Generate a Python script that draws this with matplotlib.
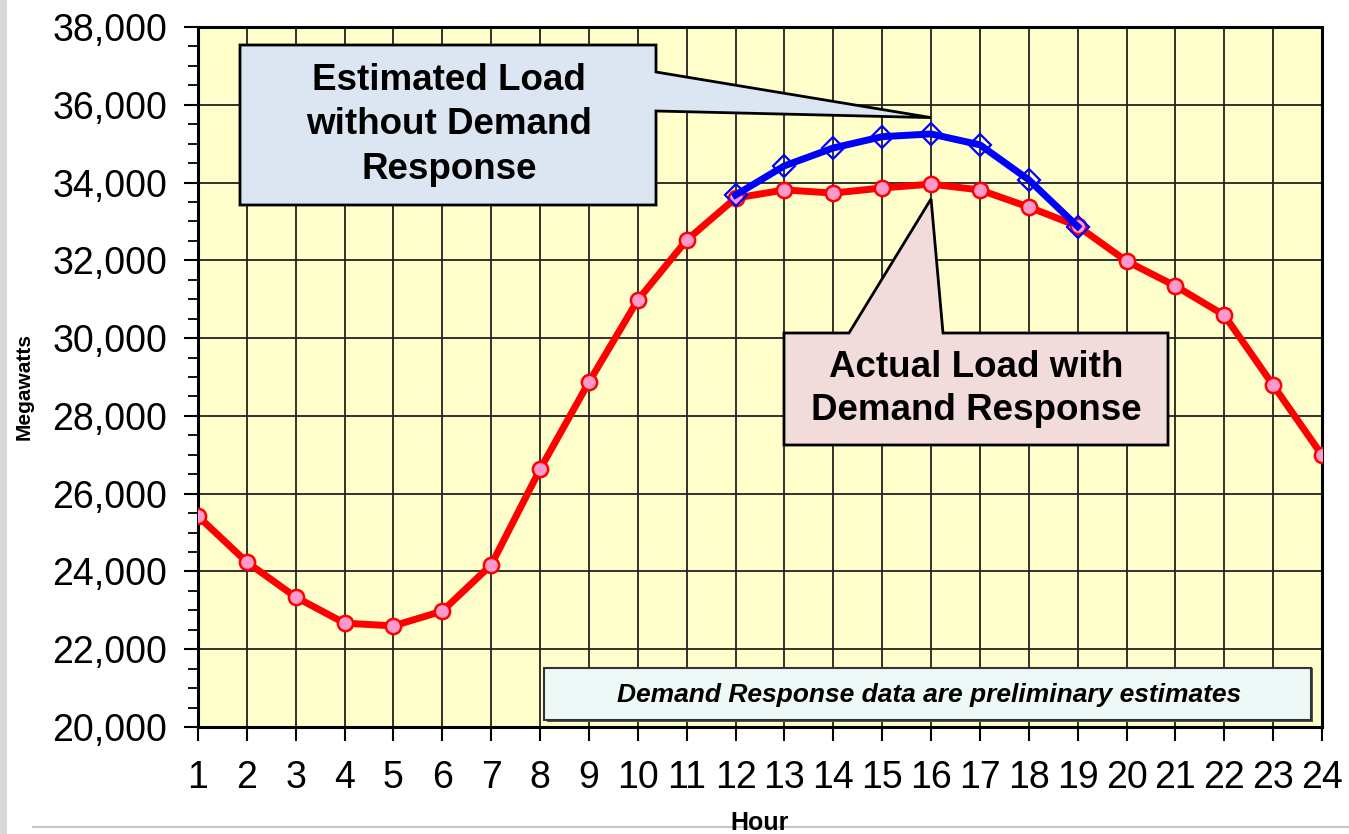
import matplotlib
matplotlib.use("Agg")
import matplotlib.pyplot as plt
from matplotlib.patches import Polygon, Rectangle
from matplotlib.ticker import MultipleLocator, FuncFormatter
from matplotlib.lines import Line2D

# ---- data ----
hours = list(range(1, 25))
actual_load = [25420, 24240, 23340, 22670, 22600, 22980, 24170, 26630,
               28870, 30980, 32520, 33600, 33810, 33730, 33860, 33960,
               33810, 33370, 32880, 31980, 31340, 30590, 28790, 26990]
est_hours = [12, 13, 14, 15, 16, 17, 18, 19]
est_load = [33680, 34430, 34890, 35180, 35250, 34970, 34070, 32870]

y_label = "Megawatts"
x_label = "Hour"
blue_text = "Estimated Load\nwithout Demand\nResponse"
pink_text = "Actual Load with\nDemand Response"
note_text = "Demand Response data are preliminary estimates"

plt.rcParams['font.family'] = ['Liberation Sans', 'DejaVu Sans']

W, H = 1349, 834
fig = plt.figure(figsize=(W / 100, H / 100), dpi=100)
fig.patch.set_facecolor('white')

def fx(x):
    return x / W

def fy(y):
    return 1 - y / H

ax = fig.add_axes([fx(198), fy(727), fx(1322) - fx(198), fy(27) - fy(727)])
ax.set_facecolor('#ffffcc')
ax.set_xlim(1, 24)
ax.set_ylim(20000, 38000)
ax.set_xticks(hours)
ax.yaxis.set_major_locator(MultipleLocator(2000))
ax.yaxis.set_minor_locator(MultipleLocator(500))
ax.yaxis.set_major_formatter(FuncFormatter(lambda v, p: f"{int(v):,}"))
ax.grid(True, which='major', color='#222222', linewidth=1.3, zorder=1)
ax.set_axisbelow(True)
for s in ax.spines.values():
    s.set_linewidth(2.2)
    s.set_color('black')
ax.tick_params(axis='both', which='major', direction='out', length=10, width=1.5,
               labelsize=27, colors='black')
ax.tick_params(axis='y', which='minor', direction='out', length=7, width=1.3)
ax.tick_params(axis='x', pad=14)
ax.tick_params(axis='y', pad=12)

ax.plot(hours, actual_load, color='#ff0000', linewidth=5, marker='o',
        markersize=11, markerfacecolor='#ff99cc', markeredgecolor='#ff0000',
        markeredgewidth=1.8, zorder=4)
ax.plot(est_hours, est_load, color='#0000ff', linewidth=5, marker='D',
        markersize=11.5, markerfacecolor='none', markeredgecolor='#0000ff',
        markeredgewidth=1.6, zorder=5)

# axis labels
fig.text(fx(24), fy(386), y_label, rotation=90, fontsize=15, fontweight='bold',
         ha='center', va='center')
fig.text(fx(760), fy(811), x_label, fontsize=18, fontweight='bold',
         ha='center', va='top')

# callout tips (in pixels) derived from data at hour 16
disp = ax.transData
def to_px(x, y):
    X, Y = disp.transform((x, y))
    return X, H - Y

i16 = hours.index(16)
j16 = est_hours.index(16)
tipb = to_px(16, est_load[j16] + 420)
tipr = to_px(16, actual_load[i16] - 380)

# blue callout
blue_pts = [(240, 45), (656, 45), (656, 72), tipb, (656, 111), (656, 205), (240, 205)]
fig.patches.append(Polygon([(fx(x), fy(y)) for x, y in blue_pts], closed=True,
                           transform=fig.transFigure, facecolor='#dce6f2',
                           edgecolor='black', linewidth=2, zorder=10))
fig.text(fx(449), fy(125), blue_text, fontsize=26.5, fontweight='bold',
         ha='center', va='center', linespacing=1.34, zorder=11)

# pink callout
pink_pts = [(784, 333), (849, 333), tipr, (943, 333), (1168, 333), (1168, 445), (784, 445)]
fig.patches.append(Polygon([(fx(x), fy(y)) for x, y in pink_pts], closed=True,
                           transform=fig.transFigure, facecolor='#f2dcdb',
                           edgecolor='black', linewidth=2, zorder=10))
fig.text(fx(976), fy(389), pink_text, fontsize=26.5, fontweight='bold',
         ha='center', va='center', linespacing=1.32, zorder=11)

# note box
fig.patches.append(Rectangle((fx(547), fy(722)), fx(1313) - fx(547), fy(668) - fy(722),
                             transform=fig.transFigure, facecolor='#555555',
                             edgecolor='none', zorder=9))
fig.patches.append(Rectangle((fx(544), fy(720)), fx(1311) - fx(544), fy(668) - fy(720),
                             transform=fig.transFigure, facecolor='#eef8f6',
                             edgecolor='#333333', linewidth=1.5, zorder=10))
fig.text(fx(929), fy(695), note_text, fontsize=19, fontweight='bold', style='italic',
         ha='center', va='center', zorder=11)

# slide artifacts: left gray strip, bottom rule
fig.patches.append(Rectangle((0, 0), fx(7), 1, transform=fig.transFigure,
                             facecolor='#d8d8d8', edgecolor='none', zorder=0))
fig.lines.append(Line2D([fx(33), 1], [fy(827), fy(827)], transform=fig.transFigure,
                        color='#c8c8c8', linewidth=1.5))

fig.savefig('out.png', dpi=100)
